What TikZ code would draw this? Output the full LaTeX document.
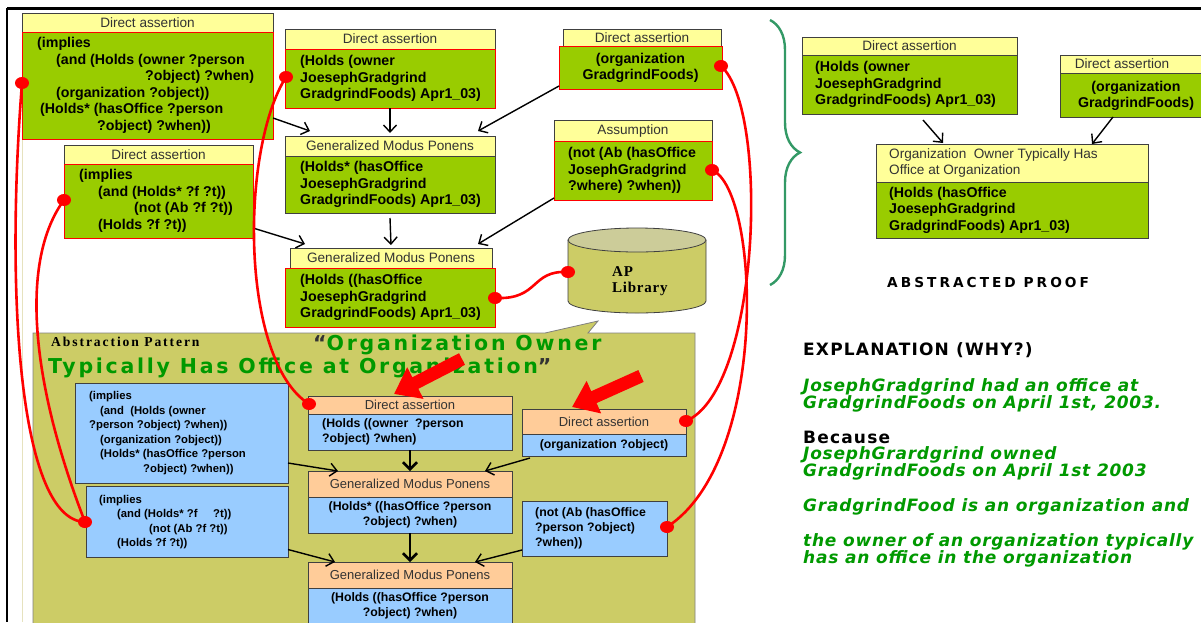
\documentclass[tikz,border=0pt]{standalone}
\usepackage{fontspec}
\usetikzlibrary{arrows.meta,decorations.pathreplacing,calc}
\setmainfont{Liberation Sans}
\newfontfamily\lsans{Liberation Sans}
\newfontfamily\lserifsp{Liberation Serif}[LetterSpace=14]
\newfontfamily\apfont{Liberation Serif}[LetterSpace=5]
\newfontfamily\dvexp{DejaVu Sans}[LetterSpace=4.5]
\newfontfamily\dvexpb{DejaVu Sans}[LetterSpace=7]
\newfontfamily\dvtit{DejaVu Sans}[LetterSpace=13.3]
\newfontfamily\dvabs{DejaVu Sans}[LetterSpace=22]
\definecolor{yel}{HTML}{FFFF99}
\definecolor{grn}{HTML}{99CC00}
\definecolor{blu}{HTML}{99CCFF}
\definecolor{pch}{HTML}{FFCC99}
\definecolor{olv}{HTML}{CCCC66}
\definecolor{cyltop}{HTML}{CCCC99}
\definecolor{gtxt}{HTML}{009900}
\definecolor{brc}{HTML}{339966}
\definecolor{edge}{HTML}{404040}
\definecolor{cream}{HTML}{E6E2BE}
\tikzset{
 rect/.style={anchor=north west, inner sep=0pt, outer sep=0pt, line width=0.8pt},
 hY/.style={rect, draw=edge, fill=yel},
 hP/.style={rect, draw=edge, fill=pch},
 bG/.style={rect, draw=red, fill=grn},
 bGk/.style={rect, draw=edge, fill=grn},
 bB/.style={rect, draw=edge, fill=blu},
 htxt/.style={inner sep=0pt, text=black!80, font=\lsans\fontsize{13.6}{15.5}\selectfont},
 htxts/.style={inner sep=0pt, text=black!80, font=\lsans\fontsize{13}{15}\selectfont},
 gtx/.style={inner sep=0pt, anchor=west, align=left, font=\lsans\bfseries\fontsize{14.2}{16.5}\selectfont},
 gtxc/.style={gtx, anchor=center, align=center},
 btx/.style={inner sep=0pt, anchor=west, align=left, font=\lsans\bfseries\fontsize{12.3}{15}\selectfont},
 btxc/.style={btx, anchor=center, align=center},
 btxs/.style={inner sep=0pt, anchor=west, align=left, font=\lsans\bfseries\fontsize{11.3}{14.6}\selectfont},
 arr/.style={draw=black, line width=1.4pt, -{Straight Barb[length=7pt,width=13pt]}},
 arrT/.style={draw=black, line width=2.6pt, -{Straight Barb[length=7pt,width=14pt]}},
 rcurve/.style={draw=red, line width=2.6pt},
 rdot/.style={ellipse, fill=red, inner sep=0pt, minimum width=14pt, minimum height=12pt},
 bigarr/.style={draw=red, line width=13pt, -{Triangle[length=24pt,width=34pt]}},
 exp/.style={inner sep=0pt, anchor=base west, text=gtxt, font=\dvexp\bfseries\itshape\fontsize{17}{20}\selectfont},
 expb/.style={inner sep=0pt, anchor=base west, text=black, font=\dvexpb\bfseries\fontsize{17}{20}\selectfont}
}
\usetikzlibrary{shapes.geometric}
\begin{document}
\begin{tikzpicture}[x=1pt,y=-1pt]
\useasboundingbox (0,0) rectangle (1201,622);
\clip (0,0) rectangle (1201,622);
\fill[white] (0,0) rectangle (1201,622);
% frame
\draw[line width=2.6pt] (7,8.3) -- (1201,8.3);
\draw[line width=1.8pt] (7,8) -- (7,622);
\draw[line width=1pt, draw=cream] (22,139) -- (22,622);
% abstraction pattern area
\filldraw[fill=olv, draw=gray, line width=0.8pt] (33,333) -- (545,333) -- (598,321) -- (588,333) -- (695,333) -- (695,630) -- (33,630) -- cycle;
\node[inner sep=0pt, anchor=base west, font=\lserifsp\bfseries\fontsize{13.6}{15}\selectfont] (apt) at (51,346) {Abstraction Pattern};
\node[inner sep=0pt, anchor=base west, text=gtxt, font=\dvtit\bfseries\fontsize{20.5}{24}\selectfont] (tt1) at (313,350) {\textcolor{black!80}{“}Organization Owner};
\node[inner sep=0pt, anchor=base west, text=gtxt, font=\dvtit\bfseries\fontsize{20.5}{24}\selectfont] (tt2) at (48,373) {Typically Has Office at Organization\textcolor{black!80}{”}};

% ---------- top proof ----------
\node[hY, minimum width=251, minimum height=19] (Ah) at (22,13) {};
\node[htxt] (Aht) at (Ah.center) {Direct assertion};
\node[bG, minimum width=251, minimum height=107] (Ab) at (22,32) {};
\node[gtx] (At) at (37,85.5) {(implies\\ \hspace*{19pt}(and (Holds (owner ?person\\ \hspace*{108pt}?object) ?when)\\ \hspace*{19pt}(organization ?object))\\ \hspace*{3pt}(Holds* (hasOffice ?person\\ \hspace*{60pt}?object) ?when))};

\node[hY, minimum width=189, minimum height=19] (Bh) at (64,145) {};
\node[htxt] (Bht) at (Bh.center) {Direct assertion};
\node[bG, minimum width=189, minimum height=74] (Bb) at (64,164) {};
\node[gtx] (Bt) at (79,201) {(implies\\ \hspace*{19pt}(and (Holds* ?f ?t))\\ \hspace*{55pt}(not (Ab ?f ?t))\\ \hspace*{19pt}(Holds ?f ?t))};

\node[hY, minimum width=210, minimum height=20] (Ch) at (285,29) {};
\node[htxt] (Cht) at (Ch.center) {Direct assertion};
\node[bG, minimum width=210, minimum height=59] (Cb) at (285,49) {};
\node[gtx] (Ct) at (300,78.5) {(Holds (owner\\JoesephGradgrind\\GradgrindFoods) Apr1\_03)};

\node[hY, minimum width=210, minimum height=20] (Dh) at (285,136) {};
\node[htxt] (Dht) at (Dh.center) {Generalized Modus Ponens};
\node[bGk, minimum width=210, minimum height=57] (Db) at (285,156) {};
\node[gtx] (Dt) at (300,184.5) {(Holds* (hasOffice\\JoesephGradgrind\\GradgrindFoods) Apr1\_03)};

\node[hY, minimum width=202, minimum height=20] (Eh) at (290,248) {};
\node[htxt] (Eht) at (Eh.center) {Generalized Modus Ponens};
\node[bG, minimum width=210, minimum height=59] (Eb) at (285,268) {};
\node[gtx] (Et) at (300,297.5) {(Holds ((hasOffice\\JoesephGradgrind\\GradgrindFoods) Apr1\_03)};

\node[hY, minimum width=158, minimum height=17] (Fh) at (563,29) {};
\node[htxt] (Fht) at (Fh.center) {Direct assertion};
\node[bG, minimum width=163, minimum height=43] (Fb) at (559,46) {};
\node[gtxc] (Ft) at (640.5,68) {(organization\\GradgrindFoods)};

\node[hY, minimum width=158, minimum height=21] (Gh) at (554,120) {};
\node[htxt] (Ght) at (Gh.center) {Assumption};
\node[bG, minimum width=158, minimum height=59] (Gb) at (554,141) {};
\node[gtx] (Gt) at (568,170.5) {(not (Ab (hasOffice\\JosephGradgrind\\?where) ?when))};

% AP library cylinder
\fill[olv] (568,240) -- (568,301) arc[start angle=180,end angle=360,x radius=69pt,y radius=12pt] -- (706,240) -- cycle;
\draw[edge, line width=0.8pt] (568,240) -- (568,301) arc[start angle=180,end angle=360,x radius=69pt,y radius=12pt] -- (706,240);
\filldraw[fill=cyltop, draw=edge, line width=0.8pt] (637,240) ellipse [x radius=69pt, y radius=12pt];
\node[inner sep=0pt, anchor=west, align=left, font=\apfont\bfseries\fontsize{15}{15.5}\selectfont] (cyl) at (612,281) {AP\\Library};

% top arrows
\draw[arr] ([yshift=21pt]Ab.south east) -- ([xshift=25pt,yshift=5pt]Dh.north west);
\draw[arr] (Cb.south) -- ([yshift=3pt]Dh.north);
\draw[arr] ([yshift=3pt]Fb.south west) -- ([xshift=-17pt,yshift=5pt]Dh.north east);
\draw[arr] ([yshift=-5pt]Db.south) -- ([yshift=3pt]Eh.north);
\draw[arr] ([yshift=10pt]Bb.south east) -- ([xshift=15pt,yshift=4pt]Eh.north west);
\draw[arr] ([yshift=2pt]Gb.south west) -- ([xshift=-14pt,yshift=4pt]Eh.north east);

% ---------- abstracted proof ----------
\draw[brc, line width=2.4pt, decorate, decoration={brace, amplitude=30pt}] (770,20) -- (770,285);

\node[hY, minimum width=215, minimum height=18] (Hh) at (802,37) {};
\node[htxt] (Hht) at (Hh.center) {Direct assertion};
\node[bGk, minimum width=215, minimum height=59] (Hb) at (802,55) {};
\node[gtx] (Ht) at (815,84.5) {(Holds (owner\\JoesephGradgrind\\GradgrindFoods) Apr1\_03)};

\node[hY, minimum width=150, minimum height=18] (Ih) at (1060,55) {};
\node[htxt] (Iht) at (1122,64) {Direct assertion};
\node[bGk, minimum width=150, minimum height=44] (Ib) at (1060,73) {};
\node[gtxc] (It) at (1136,96) {(organization\\GradgrindFoods)};

\node[hY, minimum width=272, minimum height=38] (Jh) at (876,144) {};
\node[htxt, anchor=west, align=left] (Jht) at (889,163) {Organization\ \ Owner Typically Has\\Office at Organization};
\node[bGk, minimum width=272, minimum height=56] (Jb) at (876,182) {};
\node[gtx] (Jt) at (889,210) {(Holds (hasOffice\\JoesephGradgrind\\GradgrindFoods) Apr1\_03)};

\draw[arr] ([xshift=121pt,yshift=-6pt]Hb.south west) -- ([xshift=67pt,yshift=1pt]Jh.north west);
\draw[arr] ([xshift=53pt]Ib.south west) -- ([xshift=-56pt]Jh.north east);

\node[inner sep=0pt, anchor=base west, font=\dvabs\bfseries\fontsize{13.7}{15}\selectfont] (abp) at (887,287) {ABSTRACTED PROOF};

% ---------- explanation ----------
\node[expb] (e1) at (803,355) {EXPLANATION (WHY?)};
\node[exp] (e2) at (803,391) {JosephGradgrind had an office at};
\node[exp] (e3) at (803,408) {GradgrindFoods on April 1st, 2003.};
\node[expb] (e4) at (803,443) {Because};
\node[exp] (e5) at (803,459) {JosephGrardgrind owned};
\node[exp] (e6) at (803,476) {GradgrindFoods on April 1st 2003};
\node[exp] (e7) at (803,511) {GradgrindFood is an organization and};
\node[exp] (e8) at (803,546) {the owner of an organization typically};
\node[exp] (e9) at (803,563) {has an office in the organization};

% ---------- pattern boxes ----------
\node[bB, minimum width=213, minimum height=100] (Kb) at (75,383) {};
\node[btxs] (Kt) at (89,433) {(implies\\ \hspace*{11pt}(and\ \ (Holds (owner\\?person ?object) ?when))\\ \hspace*{11pt}(organization ?object))\\ \hspace*{11pt}(Holds* (hasOffice ?person\\ \hspace*{54pt}?object) ?when))};

\node[bB, minimum width=202, minimum height=71] (Lb) at (86,486) {};
\node[btxs] (Lt) at (99,522) {(implies\\ \hspace*{18pt}(and (Holds* ?f\ \ \ \ \ ?t))\\ \hspace*{50pt}(not (Ab ?f ?t))\\ \hspace*{18pt}(Holds ?f ?t))};

\node[hP, minimum width=204, minimum height=18] (Mh) at (308,396) {};
\node[htxts] (Mht) at (Mh.center) {Direct assertion};
\node[bB, minimum width=204, minimum height=36] (Mb) at (308,414) {};
\node[btx] (Mt) at (322,432) {(Holds ((owner\ \ ?person\\?object) ?when)};

\node[hP, minimum width=164, minimum height=25] (Nh) at (522,409) {};
\node[htxts] (Nht) at (Nh.center) {Direct assertion};
\node[bB, minimum width=164, minimum height=22] (Nb) at (522,434) {};
\node[btxc] (Nt) at (Nb.center) {(organization ?object)};

\node[hP, minimum width=204, minimum height=26] (Oh) at (308,471) {};
\node[htxts] (Oht) at (Oh.center) {Generalized Modus Ponens};
\node[bB, minimum width=204, minimum height=36] (Ob) at (308,497) {};
\node[btxc] (Ot) at (Ob.center) {(Holds* ((hasOffice ?person\\?object) ?when)};

\node[bB, minimum width=145, minimum height=55] (Pb) at (522,501) {};
\node[btx] (Pt) at (535,528.5) {(not (Ab (hasOffice\\?person ?object)\\?when))};

\node[hP, minimum width=204, minimum height=26] (Qh) at (308,562) {};
\node[htxts] (Qht) at (Qh.center) {Generalized Modus Ponens};
\node[bB, minimum width=204, minimum height=40] (Qb) at (308,588) {};
\node[btxc] (Qt) at (410,605.5) {(Holds ((hasOffice ?person\\?object) ?when)};

% pattern arrows
\draw[arrT] (Mb.south) -- (Oh.north);
\draw[arr] ([yshift=-30pt]Kb.east) -- ([xshift=30pt]Oh.north west);
\draw[arr] ([xshift=8pt,yshift=-2pt]Nb.south west) -- ([xshift=-27pt]Oh.north east);
\draw[arrT] (Ob.south) -- (Qh.north);
\draw[arr] ([yshift=-28pt]Lb.east) -- ([xshift=27pt]Qh.north west);
\draw[arr] ([yshift=6pt]Pb.south west) -- ([xshift=-37pt]Qh.north east);

% red block arrows
\coordinate (ra1) at (462,359);
\coordinate (ra1t) at (394,394);
\coordinate (ra2) at (641,376);
\coordinate (ra2t) at (572,407);
\draw[bigarr] (ra1) -- (ra1t);
\draw[bigarr] (ra2) -- (ra2t);

% red link curves
\node[rdot] (dA) at (22,83) {};
\node[rdot] (dB) at (64,200) {};
\node[rdot] (dL) at (85,522) {};
\node[rdot] (dC) at (286,77) {};
\node[rdot] (dM) at (309,404) {};
\node[rdot] (dF) at (721,66) {};
\node[rdot] (dN) at (686,421) {};
\node[rdot] (dG) at (712,170) {};
\node[rdot] (dP) at (667,527) {};
\node[rdot] (dE) at (495,298) {};
\node[rdot] (dCy) at (568,272) {};
\draw[rcurve] (dA.center) .. controls (5,300) and (20,520) .. (dL.center);
\draw[rcurve] (dB.center) .. controls (20,260) and (30,380) .. (dL.center);
\draw[rcurve] (dC.center) .. controls (240,150) and (240,360) .. (dM.center);
\draw[rcurve] (dF.center) .. controls (770,110) and (760,390) .. (dN.center);
\draw[rcurve] (dG.center) .. controls (760,190) and (770,460) .. (dP.center);
\draw[rcurve] (dE.center) .. controls (540,300) and (530,270) .. (dCy.center);
\end{tikzpicture}
\end{document}
